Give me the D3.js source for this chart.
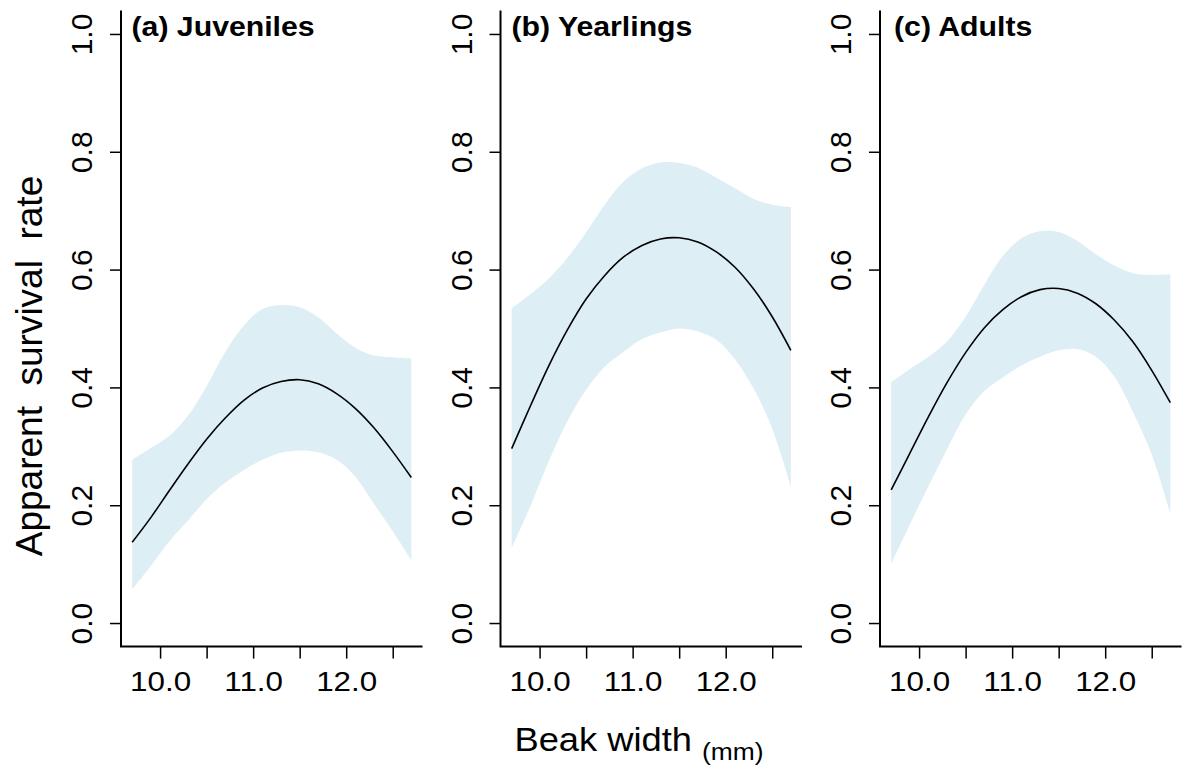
<!DOCTYPE html>
<html>
<head>
<meta charset="utf-8">
<script src="https://cdn.jsdelivr.net/npm/d3@7"></script>
<style>
  html, body { margin: 0; padding: 0; background: #ffffff; }
  svg { display: block; }
  text { font-family: "Liberation Sans", Arial, Helvetica, sans-serif; fill: #000; }
</style>
</head>
<body>
<script>
// ---------------- data ----------------
const beakWidth = [9.7, 9.9, 10.1, 10.3, 10.5, 10.7, 10.9, 11.1, 11.3, 11.5, 11.7, 11.9, 12.1, 12.3, 12.5, 12.7];

const juvFit   = [0.137, 0.179, 0.225, 0.270, 0.312, 0.348, 0.378, 0.399, 0.410, 0.413, 0.406, 0.389, 0.364, 0.331, 0.291, 0.247];
const juvLower = [0.057, 0.097, 0.139, 0.174, 0.210, 0.238, 0.260, 0.277, 0.289, 0.293, 0.290, 0.277, 0.248, 0.202, 0.156, 0.107];
const juvUpper = [0.277, 0.297, 0.318, 0.352, 0.402, 0.460, 0.505, 0.533, 0.540, 0.536, 0.519, 0.491, 0.467, 0.454, 0.451, 0.449];

const yearFit   = [0.296, 0.368, 0.437, 0.498, 0.550, 0.590, 0.621, 0.641, 0.652, 0.654, 0.647, 0.630, 0.604, 0.567, 0.520, 0.463];
const yearLower = [0.127, 0.198, 0.275, 0.343, 0.396, 0.435, 0.460, 0.482, 0.493, 0.500, 0.495, 0.481, 0.448, 0.398, 0.330, 0.232];
const yearUpper = [0.534, 0.558, 0.585, 0.620, 0.663, 0.710, 0.749, 0.772, 0.782, 0.781, 0.773, 0.756, 0.738, 0.720, 0.710, 0.706];

const adultFit   = [0.226, 0.288, 0.350, 0.408, 0.459, 0.501, 0.532, 0.554, 0.566, 0.568, 0.560, 0.542, 0.514, 0.477, 0.429, 0.374];
const adultLower = [0.101, 0.167, 0.232, 0.295, 0.354, 0.394, 0.417, 0.437, 0.452, 0.463, 0.465, 0.452, 0.418, 0.358, 0.286, 0.186];
const adultUpper = [0.409, 0.431, 0.452, 0.478, 0.520, 0.574, 0.623, 0.653, 0.665, 0.664, 0.649, 0.626, 0.607, 0.594, 0.591, 0.592];

const panelTitles = ["(a) Juveniles", "(b) Yearlings", "(c) Adults"];
const yTicks = [0.0, 0.2, 0.4, 0.6, 0.8, 1.0];
const xTicks = [10.0, 10.5, 11.0, 11.5, 12.0, 12.5];
const xTickLabels = ["10.0", "", "11.0", "", "12.0", ""];
const yAxisTitle = "Apparent  survival  rate";
const xAxisTitle = "Beak width";
const xAxisUnit = "(mm)";

// ---------------- layout ----------------
const W = 1182, H = 772;
const panelLefts = [121, 500.5, 880];
const panelWidth = 301.5;
const plotTop = 10.4, plotBottom = 646.6;
const titleX = [131.5, 511.5, 894];

const panels = [
  { title: panelTitles[0], fit: juvFit,   lo: juvLower,   hi: juvUpper },
  { title: panelTitles[1], fit: yearFit,  lo: yearLower,  hi: yearUpper },
  { title: panelTitles[2], fit: adultFit, lo: adultLower, hi: adultUpper }
];

const svg = d3.select("body").append("svg")
  .attr("width", W).attr("height", H)
  .attr("viewBox", `0 0 ${W} ${H}`);

const y = d3.scaleLinear().domain([-0.04, 1.04]).range([plotBottom, plotTop]);

panels.forEach((p, i) => {
  const left = panelLefts[i];
  const x = d3.scaleLinear().domain([9.58, 12.82]).range([left, left + panelWidth]);
  const g = svg.append("g");
  const idx = d3.range(beakWidth.length);

  // confidence band
  g.append("path")
    .datum(idx)
    .attr("fill", "#ddeef5")
    .attr("stroke", "none")
    .attr("d", d3.area()
      .x(j => x(beakWidth[j]))
      .y0(j => y(p.lo[j]))
      .y1(j => y(p.hi[j]))
      .curve(d3.curveCatmullRom.alpha(0.5)));

  // fitted line
  g.append("path")
    .datum(idx)
    .attr("fill", "none")
    .attr("stroke", "#000")
    .attr("stroke-width", 1.6)
    .attr("d", d3.line()
      .x(j => x(beakWidth[j]))
      .y(j => y(p.fit[j]))
      .curve(d3.curveCatmullRom.alpha(0.5)));

  // y axis ticks + labels
  const yAx = g.append("g")
    .attr("transform", `translate(${left},0)`)
    .call(d3.axisLeft(y).tickValues(yTicks).tickSize(11).tickSizeOuter(0).tickFormat(d3.format(".1f")));
  yAx.select(".domain").remove();
  yAx.selectAll(".tick line").attr("stroke", "#000").attr("stroke-width", 1.5);
  yAx.selectAll(".tick text")
    .attr("x", 0).attr("y", -29).attr("dy", 0)
    .attr("transform", "rotate(-90)")
    .attr("text-anchor", "middle")
    .style("font-size", "30px")
    .style("font-family", "'Liberation Sans', Arial, sans-serif")
    .attr("fill", "#000");

  // x axis ticks + labels
  const xAx = g.append("g")
    .attr("transform", `translate(0,${plotBottom})`)
    .call(d3.axisBottom(x).tickValues(xTicks).tickSize(12).tickSizeOuter(0)
      .tickFormat((d, k) => xTickLabels[k]));
  xAx.select(".domain").remove();
  xAx.selectAll(".tick line").attr("stroke", "#000").attr("stroke-width", 1.5);
  xAx.selectAll(".tick text")
    .attr("y", 44.4).attr("dy", 0)
    .attr("transform", "scale(1.1,1)")
    .attr("text-anchor", "middle")
    .style("font-size", "28.5px")
    .style("font-family", "'Liberation Sans', Arial, sans-serif")
    .attr("fill", "#000");

  // L-shaped box
  g.append("path")
    .attr("fill", "none")
    .attr("stroke", "#000")
    .attr("stroke-width", 2)
    .attr("d", `M${left},${plotTop}V${plotBottom}H${left + panelWidth}`);

  // panel title
  g.append("text")
    .attr("transform", `translate(${titleX[i]},36) scale(1.1,1)`)
    .style("font-size", "27.5px")
    .style("font-weight", "bold")
    .text(p.title);
});

// y axis title
svg.append("text")
  .attr("transform", "translate(42,366) rotate(-90)")
  .attr("text-anchor", "middle")
  .style("font-size", "37px")
  .style("white-space", "pre")
  .attr("xml:space", "preserve")
  .text(yAxisTitle);

// x axis title
const xt = svg.append("text")
  .attr("transform", "translate(639,751) scale(1.1,1)")
  .attr("text-anchor", "middle")
  .style("white-space", "pre");
xt.append("tspan").style("font-size", "33px").text(xAxisTitle + " ");
xt.append("tspan").style("font-size", "24px").attr("dy", 9).text(xAxisUnit);
</script>
</body>
</html>
